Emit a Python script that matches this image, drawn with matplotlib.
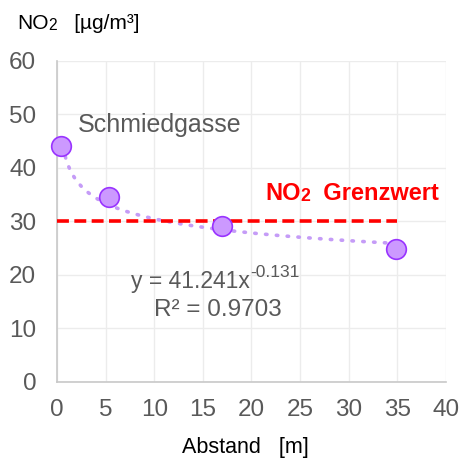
import numpy as np
import matplotlib
matplotlib.use("Agg")
import matplotlib.pyplot as plt

plt.rcParams['font.family'] = ['Liberation Sans', 'DejaVu Sans']

# data
abstand = [0.45, 5.4, 17.0, 34.9]
no2 = [44.2, 34.6, 29.2, 24.9]
grenzwert = 30
fit_a = 41.241
fit_b = -0.131
x_ticks = [0, 5, 10, 15, 20, 25, 30, 35, 40]
y_ticks = [0, 10, 20, 30, 40, 50, 60]

gray = '#595959'

fig = plt.figure(figsize=(4.61, 4.62), dpi=100)
ax = fig.add_axes([0.1236, 0.1732, 0.8439, 0.6948])

ax.set_xlim(0, 40)
ax.set_ylim(0, 60)
ax.set_xticks(x_ticks)
ax.set_yticks(y_ticks)
ax.grid(True, color='#ececec', linewidth=1)
ax.set_axisbelow(True)
for s in ['top', 'right']:
    ax.spines[s].set_visible(False)
ax.spines['left'].set_color('#c8c8c8')
ax.spines['bottom'].set_color('#c8c8c8')
ax.spines['left'].set_linewidth(1.2)
ax.spines['bottom'].set_linewidth(1.2)
ax.tick_params(length=0, labelsize=17.5, labelcolor=gray)
ax.tick_params(axis='y', pad=15)
ax.tick_params(axis='x', pad=12.5)

# power trendline
xs = np.linspace(0.6, abstand[-1], 200)
ax.plot(xs, fit_a * xs ** fit_b, color='#c59cf7', linestyle=(0, (0.4, 2.6)),
        linewidth=2.6, dash_capstyle='round', zorder=2)

# limit line
ax.plot([0, 35], [grenzwert, grenzwert], color='#ff0000', linestyle=(0, (3.3, 1.5)),
        linewidth=2.6, zorder=3)

ax.scatter(abstand, no2, s=200, color='#cc99ff', edgecolor='#9933ff',
           linewidth=1.2, zorder=4, clip_on=False)


def no2_text(x, y, coords, size, rest, **kw):
    # "NO" + smaller "2" sitting on the baseline + the rest of the label
    t1 = ax.annotate('NO', xy=(x, y), xycoords=coords, fontsize=size,
                     va='bottom', annotation_clip=False, **kw)
    t2 = ax.annotate('2', xy=(1, 0), xycoords=t1, fontsize=size * 0.75,
                     va='bottom', ha='left', **kw)
    ax.annotate(rest, xy=(1, 0), xycoords=t2, fontsize=size,
                va='bottom', ha='left', **kw)


ax.text(2.1, 48, 'Schmiedgasse', fontsize=18, color=gray, va='center')
no2_text(21.4, 33.0, 'data', 17, '  Grenzwert', color='#ff0000', fontweight='bold')
eq = ax.text(7.6, 18.7, 'y = 41.241x', fontsize=16.5, color=gray, va='center')
ax.annotate('-0.131', xy=(1, 0.6), xycoords=eq, fontsize=12.5, color=gray,
            va='bottom', ha='left')
ax.text(16.5, 13.5, 'R² = 0.9703', fontsize=17.5, color=gray, ha='center',
        va='center')

no2_text(17 / 461, 1 - 33 / 462, 'figure fraction', 15, '   [µg/m³]', color='black')
fig.text(245 / 461, 1 - 447 / 462, 'Abstand   [m]', fontsize=15.5,
         color='black', va='center', ha='center')

fig.savefig('out.png', dpi=100)
